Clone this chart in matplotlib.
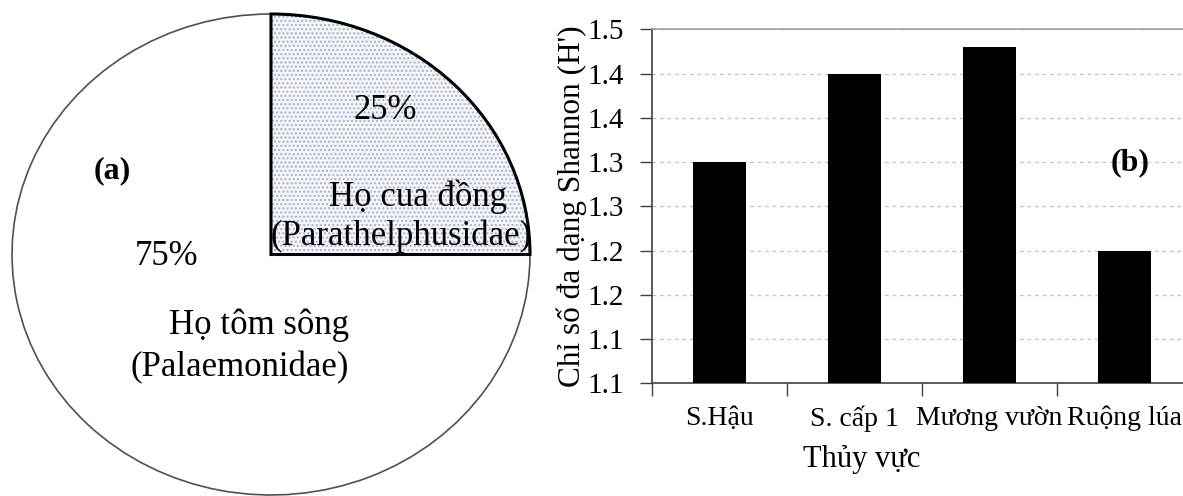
#!/usr/bin/env python3
"""Crustacean family composition (pie) and Shannon diversity by habitat (bars)."""

import matplotlib

matplotlib.use("Agg")
import matplotlib.pyplot as plt
import numpy as np
from matplotlib.patches import Wedge

# (a) share of species by family
family_names = ["Họ cua đồng", "Họ tôm sông"]
family_latin = ["(Parathelphusidae)", "(Palaemonidae)"]
family_share = [25, 75]

# (b) Shannon index H' per habitat
habitats = ["S.Hậu", "S. cấp 1", "Mương vườn", "Ruộng lúa"]
shannon = [1.30, 1.40, 1.43, 1.20]
y_ticks = [1.05, 1.10, 1.15, 1.20, 1.25, 1.30, 1.35, 1.40, 1.45]
y_tick_labels = ["1.1", "1.1", "1.2", "1.2", "1.3", "1.3", "1.4", "1.4", "1.5"]

W, H = 1183, 496
SERIF = ["Liberation Serif", "DejaVu Serif"]
plt.rcParams["font.family"] = SERIF
plt.rcParams["hatch.linewidth"] = 1.0


def px_box(left, top, right, bottom):
    """Axes rectangle from pixel edges (origin top-left)."""
    return [left / W, 1 - bottom / H, (right - left) / W, (bottom - top) / H]


def draw_pie(fig):
    ax = fig.add_axes(px_box(12, 14, 530, 495))
    wedges, _ = ax.pie(
        family_share,
        startangle=90,
        counterclock=False,
        radius=1.0,
        colors=["#f5f6fa", "white"],
    )
    ax.set_aspect("auto")
    ax.set_xlim(-1, 1)
    ax.set_ylim(-1, 1)

    crab, shrimp = wedges
    crab.set_hatch("....")
    crab.set_edgecolor("#a3b0cf")
    crab.set_linewidth(0)
    shrimp.set_edgecolor("#505050")
    shrimp.set_linewidth(1.2)
    for w in wedges:
        w.set_clip_on(False)

    # black outline on top of the hatched slice
    outline = Wedge(crab.center, crab.r, crab.theta1, crab.theta2,
                    fill=False, edgecolor="black", linewidth=2.2, clip_on=False)
    ax.add_patch(outline)

    fs = 25
    ax.text(0.44, 0.60, f"{family_share[0]}%", fontsize=fs, ha="center", va="center")
    ax.text(0.566, 0.24, family_names[0], fontsize=fs, ha="center", va="center")
    ax.text(0.503, 0.074, family_latin[0], fontsize=fs, ha="center", va="center")
    ax.text(-0.405, -0.01, f"{family_share[1]}%", fontsize=fs, ha="center", va="center")
    ax.text(-0.046, -0.293, family_names[1], fontsize=fs, ha="center", va="center")
    ax.text(-0.12, -0.472, family_latin[1], fontsize=fs, ha="center", va="center")
    ax.text(-0.612, 0.35, "(a)", fontsize=23, fontweight="bold", ha="center", va="center")


def draw_bars(fig):
    # plot area runs a little past the right edge of the canvas
    ax = fig.add_axes(px_box(651.7, 29.3, 1191.7, 383.3))
    x = np.arange(len(habitats))
    ax.bar(x, shannon, width=0.39, color="black", zorder=3)
    ax.set_xlim(-0.5, len(habitats) - 0.5)
    ax.set_ylim(y_ticks[0], y_ticks[-1])

    ax.set_yticks(y_ticks, y_tick_labels)
    ax.yaxis.grid(True, linestyle=(0, (3, 3)), color="#c4c4c4", linewidth=0.9, zorder=0)

    # category boundaries get the tick marks, names sit between them
    ax.set_xticks(np.arange(len(habitats) + 1) - 0.5, [""] * (len(habitats) + 1))
    ax.set_xticks(x, habitats, minor=True)

    ax.tick_params(axis="y", direction="out", length=9, width=1.0,
                   color="#404040", labelsize=21, pad=11)
    ax.tick_params(axis="x", which="major", direction="out", length=9,
                   width=1.0, color="#404040")
    ax.tick_params(axis="x", which="minor", length=0, labelsize=20, pad=16)

    for side in ("left", "bottom"):
        ax.spines[side].set_color("#404040")
        ax.spines[side].set_linewidth(1.2)
    ax.spines["top"].set_color("#9a9a9a")
    ax.spines["top"].set_linewidth(1.2)
    ax.spines["right"].set_visible(False)

    fig.text(572 / W, 1 - 206 / H, "Chỉ số đa dạng Shannon (H')", rotation=90,
             fontsize=22.5, ha="center", va="center")
    fig.text(862 / W, 1 - 459 / H, "Thủy vực", fontsize=22, ha="center", va="center")
    fig.text(1130.5 / W, 1 - 163 / H, "(b)", fontsize=23, fontweight="bold",
             ha="center", va="center")


def main() -> int:
    fig = plt.figure(figsize=(W / 100, H / 100), dpi=100)
    draw_pie(fig)
    draw_bars(fig)
    fig.savefig("out.png", dpi=100)
    print("[ok] wrote: out.png")
    return 0


if __name__ == "__main__":
    raise SystemExit(main())
